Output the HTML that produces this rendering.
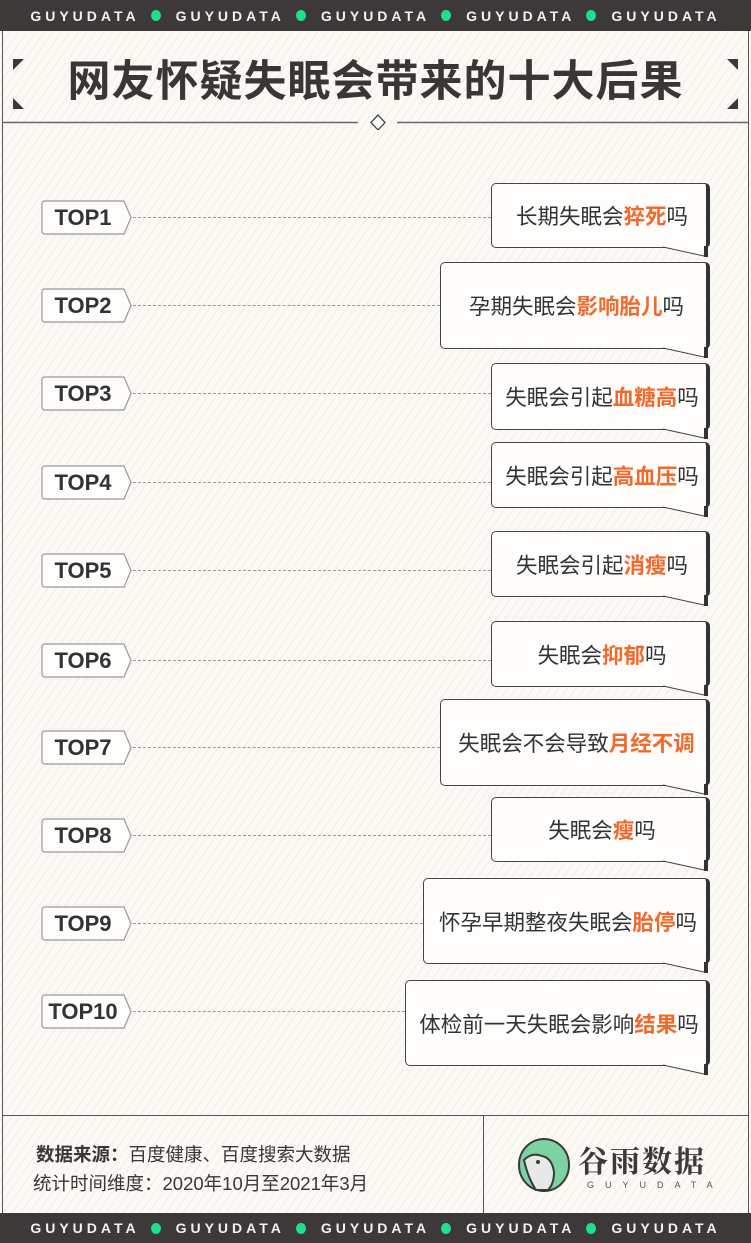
<!DOCTYPE html>
<html><head><meta charset="utf-8"><style>
*{margin:0;padding:0;box-sizing:border-box}
body{width:751px;height:1243px;position:relative;overflow:hidden;font-family:"Liberation Sans","Noto Sans CJK SC",sans-serif;color:#3a3636;
background:#fbf9f4 repeating-linear-gradient(-55deg,#fbf9f4 0 6px,#f1ede5 6px 7px);}
.bar{position:absolute;left:0;width:751px;height:31px;background:#3d3939;color:#f2f2f2;font-size:14px;letter-spacing:4px;font-weight:bold;display:flex;align-items:center;justify-content:center;gap:0;white-space:nowrap}
.bar span.d{display:inline-block;width:10px;height:11px;border-radius:50%;background:#1ee08a;margin:0 15px 0 11px}
.frame{position:absolute;left:2px;top:31px;width:747px;height:1182px;border:1px solid #555;border-top:none;border-bottom:none}
.hl{position:absolute;height:1px;background:#555}
.title{position:absolute;top:47px;left:0;width:751px;text-align:center;font-size:43px;font-weight:bold;letter-spacing:1px;color:#3a3636}
.lab{position:absolute;left:41px;height:35px;width:90px}
.lab svg{position:absolute;left:0;top:0}
.lab b{position:absolute;left:0;width:84px;top:0;line-height:35px;text-align:center;font-size:22px;color:#333}
.dash{position:absolute;left:133px;border-top:1px dashed #999;height:0}
.bub{position:absolute;right:41px;background:#fefdfb;border:1px solid #444;border-right:4px solid #333;border-radius:5px;display:flex;align-items:center;justify-content:center;font-size:21.5px;color:#333;padding-left:6px}
.bub i{font-style:normal;font-weight:bold;color:#f26a2b}
.tail{position:absolute;overflow:visible}
.foot1{position:absolute;left:36px;top:1141px;font-size:18.5px}
.foot2{position:absolute;left:33px;top:1170px;font-size:18.5px}
</style></head><body>
<div class="bar" style="top:0">GUYUDATA<span class="d"></span>GUYUDATA<span class="d"></span>GUYUDATA<span class="d"></span>GUYUDATA<span class="d"></span>GUYUDATA</div>
<div class="frame"></div>
<div class="title">网友怀疑失眠会带来的十大后果</div>
<svg style="position:absolute;left:0;top:0" width="751" height="130">
<polygon points="13,59 24,59 13,70" fill="#3d3939"/>
<polygon points="738,59 727,59 738,70" fill="#3d3939"/>
<polygon points="13,98 13,109 24,109" fill="#3d3939"/>
<polygon points="738,98 738,109 727,109" fill="#3d3939"/>
<line x1="2" y1="122.5" x2="358" y2="122.5" stroke="#666" stroke-width="1.5"/>
<line x1="397" y1="122.5" x2="749" y2="122.5" stroke="#666" stroke-width="1.5"/>
<polygon points="378,115 385,122.5 378,130 371,122.5" fill="#fff" stroke="#444" stroke-width="1.3"/>
</svg>

<div id="rows"></div>
<script>
var rows=[
[200,183,248,491,'长期失眠会<i>猝死</i>吗','TOP1'],
[288,262,349,440,'孕期失眠会<i>影响胎儿</i>吗','TOP2'],
[376,363,430,491,'失眠会引起<i>血糖高</i>吗','TOP3'],
[465,442,508,491,'失眠会引起<i>高血压</i>吗','TOP4'],
[553,531,597,491,'失眠会引起<i>消瘦</i>吗','TOP5'],
[643,621,687,491,'失眠会<i>抑郁</i>吗','TOP6'],
[730,699,786,440,'失眠会不会导致<i>月经不调</i>','TOP7'],
[818,797,862,491,'失眠会<i>瘦</i>吗','TOP8'],
[906,878,964,423,'怀孕早期整夜失眠会<i>胎停</i>吗','TOP9'],
[994,980,1066,405,'体检前一天失眠会影响<i>结果</i>吗','TOP10']];
var h='';
rows.forEach(function(r){
 var ly=r[0],bt=r[1],bb=r[2],bl=r[3];
 h+='<div class="lab" style="top:'+ly+'px"><svg width="92" height="36"><path d="M1,4 Q1,1 4,1 L83,1 L90,17.5 L83,34 L4,34 Q1,34 1,31 Z" fill="#fefdfb" stroke="#999" stroke-width="1.2"/></svg><b>'+r[5]+'</b></div>';
 h+='<div class="dash" style="top:'+(ly+17)+'px;width:'+(bl-133)+'px"></div>';
 h+='<div class="bub" style="left:'+bl+'px;top:'+bt+'px;height:'+(bb-bt)+'px">'+r[4]+'</div>';
 h+='<svg class="tail" style="left:'+(710-50)+'px;top:'+(bb-2)+'px" width="52" height="14"><polygon points="3,1 44,1 44,10" fill="#fefdfb"/><line x1="3" y1="1" x2="44" y2="10" stroke="#444" stroke-width="1"/><rect x="44" y="0" width="4" height="11" fill="#333"/></svg>';
});
document.getElementById('rows').innerHTML=h;
</script>

<div class="hl" style="left:2px;top:1115px;width:747px"></div>
<div style="position:absolute;left:483px;top:1115px;width:1px;height:98px;background:#555"></div>
<div class="foot1"><b>数据来源：</b>百度健康、百度搜索大数据</div>
<div class="foot2">统计时间维度：2020年10月至2021年3月</div>
<svg style="position:absolute;left:518px;top:1138px" width="52" height="54">
<ellipse cx="26" cy="27" rx="25" ry="26" fill="#7ad3a0" stroke="#3d3939" stroke-width="2"/>
<path d="M6,22 Q14,14 24,18 Q34,20 36,34 Q36,46 30,52 L18,52 Q10,40 6,22Z" fill="#e8e8e8" stroke="#3d3939" stroke-width="2"/>
<circle cx="20" cy="24" r="2" fill="#3d3939"/>
</svg>
<div style="position:absolute;left:578px;top:1137px;font-size:30px;font-family:'Noto Serif CJK SC',serif;font-weight:bold;color:#3d3939;letter-spacing:2px">谷雨数据</div>
<div style="position:absolute;left:587px;top:1180px;font-size:9px;letter-spacing:11px;color:#555">GUYUDATA</div>
<div class="bar" style="top:1213px;height:30px">GUYUDATA<span class="d"></span>GUYUDATA<span class="d"></span>GUYUDATA<span class="d"></span>GUYUDATA<span class="d"></span>GUYUDATA</div>
</body></html>
